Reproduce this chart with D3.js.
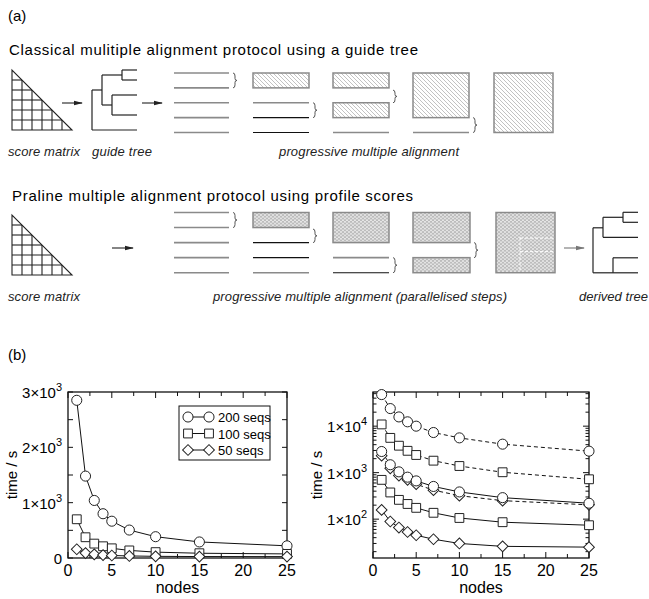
<!DOCTYPE html>
<html>
<head>
<meta charset="utf-8">
<script src="https://d3js.org/d3.v7.min.js"></script>
<style>
  body { margin: 0; background: #fff; }
  svg { display: block; font-family: "Liberation Sans", Arial, sans-serif; }
</style>
</head>
<body>
<script>
// ---- data ----
const nodes = [1, 2, 3, 4, 5, 7, 10, 15, 25];
const praline200 = [2850, 1480, 1040, 800, 665, 505, 385, 290, 220];
const praline100 = [700, 375, 260, 212, 175, 137, 106, 86, 74];
const praline50 = [158, 89, 66, 53, 45, 37, 30, 26, 25];
const dashed200 = [47800, 23900, 15800, 12400, 10000, 7300, 5600, 4100, 2900];
const dashed100 = [10900, 5600, 3800, 2950, 2400, 1810, 1390, 1020, 720];
const dashed50 = [2320, 1240, 865, 700, 565, 420, 320, 250, 203];
const legendLabels = ["200 seqs", "100 seqs", "50 seqs"];
const xTicks = [0, 5, 10, 15, 20, 25];
const linTicks = [0, 1000, 2000, 3000];
const logTicks = [100, 1000, 10000];

// schematic of the two protocols (rows 0..4, k = black line)
const classicStages = [
  [{t: "line", r: 0}, {t: "line", r: 1}, {t: "line", r: 2}, {t: "line", r: 3}, {t: "line", r: 4}, {t: "brace", a: 0, b: 1}],
  [{t: "rect", a: 0, b: 1}, {t: "line", r: 2}, {t: "line", r: 3, k: 1}, {t: "line", r: 4, k: 1}, {t: "brace", a: 2, b: 3}],
  [{t: "rect", a: 0, b: 1}, {t: "rect", a: 2, b: 3}, {t: "line", r: 4}, {t: "brace", a: 1.15, b: 2}],
  [{t: "rect", a: 0, b: 3}, {t: "line", r: 4}, {t: "brace", a: 3, b: 4}],
  [{t: "rect", a: 0, b: 4}]
];
const pralineStages = [
  [{t: "line", r: 0}, {t: "line", r: 1}, {t: "line", r: 2}, {t: "line", r: 3}, {t: "line", r: 4}, {t: "brace", a: 0, b: 1}],
  [{t: "rect", a: 0, b: 1}, {t: "line", r: 2, k: 1}, {t: "line", r: 3, k: 1}, {t: "line", r: 4}, {t: "brace", a: 1.1, b: 2}],
  [{t: "rect", a: 0, b: 2}, {t: "line", r: 3}, {t: "line", r: 4, k: 1}, {t: "brace", a: 3, b: 4}],
  [{t: "rect", a: 0, b: 2}, {t: "rect", a: 3, b: 4}, {t: "brace", a: 2, b: 3}],
  [{t: "rect", a: 0, b: 4}]
];
const guideTree = {d: 0, kids: [
  {d: 1, r: 4, kids: [
    {d: 3, r: 1, kids: [{d: 4.5, r: 0}, {d: 4.5, r: 2}]},
    {d: 2, r: 7, kids: [{d: 4.5, r: 5}, {d: 4.5, r: 9}]}
  ]},
  {d: 4.5, r: 12}
]};
const derivedTree = {d: 0, kids: [
  {d: 1, r: 3.1, kids: [
    {d: 3, r: 1, kids: [{d: 4.5, r: 0}, {d: 4.5, r: 2}]},
    {d: 4.5, r: 5}
  ]},
  {d: 2, r: 12.1, kids: [{d: 4.5, r: 9.1}, {d: 4.5, r: 12.1}]}
]};

const width = 649, height = 599;
const svg = d3.select("body").append("svg")
    .attr("width", width)
    .attr("height", height);

// ---- patterns ----
const defs = svg.append("defs");
const hatch = defs.append("pattern").attr("id", "hatch")
    .attr("patternUnits", "userSpaceOnUse").attr("width", 4).attr("height", 4);
hatch.append("rect").attr("width", 4).attr("height", 4).attr("fill", "#fff");
hatch.append("path").attr("d", "M0,0L4,4M-1,3L1,5M3,-1L5,1")
    .attr("stroke", "#a8a8a8").attr("stroke-width", 0.7);

const mesh = defs.append("pattern").attr("id", "mesh")
    .attr("patternUnits", "userSpaceOnUse").attr("width", 4).attr("height", 3.4);
mesh.append("rect").attr("width", 4).attr("height", 3.4).attr("fill", "#bcbcbc");
mesh.append("circle").attr("cx", 1).attr("cy", 0.85).attr("r", 0.95).attr("fill", "#eeeeee");
mesh.append("circle").attr("cx", 3).attr("cy", 2.55).attr("r", 0.95).attr("fill", "#eeeeee");

defs.append("marker").attr("id", "arrow")
    .attr("markerUnits", "userSpaceOnUse")
    .attr("markerWidth", 10).attr("markerHeight", 6)
    .attr("refX", 8).attr("refY", 3).attr("orient", "auto")
  .append("path").attr("d", "M0,0.8L9,3L0,5.2Z").attr("fill", "#222");
defs.append("marker").attr("id", "arrowGrey")
    .attr("markerUnits", "userSpaceOnUse")
    .attr("markerWidth", 10).attr("markerHeight", 6)
    .attr("refX", 8).attr("refY", 3).attr("orient", "auto")
  .append("path").attr("d", "M0,0.8L9,3L0,5.2Z").attr("fill", "#777");

// ---- panel (a) ----
svg.append("text").attr("x", 8).attr("y", 21).style("font-size", "15px").text("(a)");
svg.append("text").attr("x", 9).attr("y", 55).style("font-size", "15px")
    .attr("textLength", 409).attr("lengthAdjust", "spacing")
    .text("Classical mulitiple alignment protocol using a guide tree");
svg.append("text").attr("x", 12).attr("y", 201).style("font-size", "15px")
    .attr("textLength", 401).attr("lengthAdjust", "spacing")
    .text("Praline multiple alignment protocol using profile scores");

function italic(x, y, s, len) {
  svg.append("text").attr("x", x).attr("y", y)
      .style("font-size", "13px").style("font-style", "italic").attr("fill", "#222")
      .attr("textLength", len).attr("lengthAdjust", "spacing").text(s);
}
italic(8, 156, "score matrix", 72);
italic(92, 156, "guide tree", 60);
italic(279, 156, "progressive multiple alignment", 180);
italic(8, 301, "score matrix", 72);
italic(213, 301, "progressive multiple alignment (parallelised steps)", 294);
italic(579, 301, "derived tree", 69);

function drawMatrix(x0, y0) {
  const s = d3.scaleLinear().domain([0, 6]).range([0, 60]);
  const g = svg.append("g").attr("fill", "none").attr("stroke", "#222").attr("stroke-width", 1.1);
  g.append("path").attr("d", `M${x0},${y0}L${x0},${y0 + s(6)}L${x0 + s(6)},${y0 + s(6)}Z`);
  d3.range(1, 6).forEach(i => {
    g.append("line").attr("x1", x0).attr("x2", x0 + s(i)).attr("y1", y0 + s(i)).attr("y2", y0 + s(i));
    g.append("line").attr("x1", x0 + s(i)).attr("x2", x0 + s(i)).attr("y1", y0 + s(i)).attr("y2", y0 + s(6));
  });
}
drawMatrix(12, 70);
drawMatrix(12, 215);

function arrow(x1, x2, y, grey) {
  svg.append("line").attr("x1", x1).attr("x2", x2).attr("y1", y).attr("y2", y)
      .attr("stroke", grey ? "#777" : "#222").attr("stroke-width", 1.1)
      .attr("marker-end", grey ? "url(#arrowGrey)" : "url(#arrow)");
}
arrow(62, 82, 103);
arrow(142, 162, 103);
arrow(112, 133, 248);
arrow(564, 584, 248, true);

function brace(x, y0, y1) {
  const m = (y0 + y1) / 2, w = 4;
  return `M${x},${y0}Q${x + w / 2},${y0} ${x + w / 2},${y0 + 3}L${x + w / 2},${m - 2}` +
    `Q${x + w / 2},${m} ${x + w},${m}Q${x + w / 2},${m} ${x + w / 2},${m + 2}` +
    `L${x + w / 2},${y1 - 3}Q${x + w / 2},${y1} ${x},${y1}`;
}

function drawStages(stages, rowRange, colXs, colWs, fillId) {
  const y = d3.scaleLinear().domain([0, 4]).range(rowRange);
  const g = svg.append("g");
  stages.forEach((items, i) => {
    const x = colXs[i], w = colWs[i];
    items.forEach(it => {
      if (it.t === "line") {
        g.append("line").attr("x1", x).attr("x2", x + w).attr("y1", y(it.r)).attr("y2", y(it.r))
            .attr("stroke", it.k ? "#111" : "#8a8a8a").attr("stroke-width", it.k ? 1.1 : 1.6);
      } else if (it.t === "rect") {
        g.append("rect").attr("x", x).attr("y", y(it.a)).attr("width", w).attr("height", y(it.b) - y(it.a))
            .attr("fill", `url(#${fillId})`).attr("stroke", "#8a8a8a").attr("stroke-width", 1.5);
      } else {
        g.append("path").attr("d", brace(x + w + 4, y(it.a), y(it.b)))
            .attr("fill", "none").attr("stroke", "#555").attr("stroke-width", 1);
      }
    });
  });
  return y;
}
drawStages(classicStages, [73, 132.5], [174, 253, 333, 413, 494], [55, 56, 56, 56, 59], "hatch");
const py = drawStages(pralineStages, [212.5, 272.7], [174, 253, 333, 413, 496], [55, 56, 56, 57, 59], "mesh");

// white dashed lines marking the parallel steps in the final block
const pdash = svg.append("g").attr("stroke", "#fff").attr("stroke-width", 1).attr("stroke-dasharray", "3,2");
pdash.append("line").attr("x1", 520).attr("x2", 520).attr("y1", py(1.65)).attr("y2", py(4) - 1);
[1.7, 2.6].forEach(r => pdash.append("line").attr("x1", 520).attr("x2", 553)
    .attr("y1", py(r)).attr("y2", py(r)));

function drawTree(tree, x0, y0) {
  const dx = d3.scaleLinear().domain([0, 1]).range([x0, x0 + 10]);
  const dy = d3.scaleLinear().domain([0, 1]).range([y0, y0 + 5]);
  const g = svg.append("g").attr("fill", "none").attr("stroke", "#222").attr("stroke-width", 1.2);
  (function walk(n) {
    if (!n.kids) return;
    const rs = n.kids.map(k => k.r);
    g.append("line").attr("x1", dx(n.d)).attr("x2", dx(n.d))
        .attr("y1", dy(d3.min(rs))).attr("y2", dy(d3.max(rs)));
    n.kids.forEach(k => {
      g.append("line").attr("x1", dx(n.d)).attr("x2", dx(k.d)).attr("y1", dy(k.r)).attr("y2", dy(k.r));
      walk(k);
    });
  })(tree);
}
drawTree(guideTree, 92, 70);
drawTree(derivedTree, 593, 212.3);

// ---- panel (b) ----
svg.append("text").attr("x", 8).attr("y", 360).style("font-size", "15px").text("(b)");

const shapes = [
  d3.symbol(d3.symbolCircle, 80),
  d3.symbol(d3.symbolSquare, 78),
  d3.symbol(d3.symbolSquare, 58)
];
function marker(g, k, cx, cy) {
  g.append("path").attr("d", shapes[k]())
      .attr("transform", `translate(${cx},${cy})` + (k === 2 ? " rotate(45)" : ""))
      .attr("fill", "#fff").attr("stroke", "#222").attr("stroke-width", 1);
}

function supLabel(sel, mant, exp) {
  sel.append("tspan").text(mant + "\u00d710");
  sel.append("tspan").attr("dy", -7).style("font-size", "11px").text(exp);
}

function makePlot(cfg) {
  const {x, y, left, right, top, bottom} = cfg;
  const g = svg.append("g");
  g.append("rect").attr("x", left).attr("y", top).attr("width", right - left).attr("height", bottom - top)
      .attr("fill", "none").attr("stroke", "#111").attr("stroke-width", 1.3);

  // x ticks, inward top and bottom
  d3.range(0, 25.01, 2.5).forEach(v => {
    const len = v % 5 === 0 ? 6 : 4;
    g.append("line").attr("x1", x(v)).attr("x2", x(v)).attr("y1", bottom).attr("y2", bottom - len).attr("stroke", "#111");
    g.append("line").attr("x1", x(v)).attr("x2", x(v)).attr("y1", top).attr("y2", top + len).attr("stroke", "#111");
  });
  xTicks.forEach(v => g.append("text").attr("x", x(v)).attr("y", bottom + 18)
      .attr("text-anchor", "middle").style("font-size", "16px").text(v));

  // y ticks
  cfg.yTickVals.forEach(t => {
    g.append("line").attr("x1", left).attr("x2", left + t.len).attr("y1", y(t.v)).attr("y2", y(t.v)).attr("stroke", "#111");
    g.append("line").attr("x1", right).attr("x2", right - t.len).attr("y1", y(t.v)).attr("y2", y(t.v)).attr("stroke", "#111");
  });
  cfg.yLabels.forEach(v => {
    const t = g.append("text").attr("x", left - 6).attr("y", y(v) + 6)
        .attr("text-anchor", "end").style("font-size", "15px");
    if (v === 0) t.text("0");
    else {
      const e = Math.floor(Math.log10(v) + 1e-9);
      supLabel(t, Math.round(v / Math.pow(10, e)), e);
    }
  });

  g.append("text").attr("x", (left + right) / 2).attr("y", bottom + 35)
      .attr("text-anchor", "middle").style("font-size", "16px").text("nodes");
  g.append("text").attr("transform", `translate(${cfg.ylabX},${(top + bottom) / 2}) rotate(-90)`)
      .attr("text-anchor", "middle").style("font-size", "15px").text("time / s");

  const line = d3.line().x(d => x(d[0])).y(d => y(d[1]));
  cfg.series.forEach(s => {
    const pts = nodes.map((n, i) => [n, s.values[i]]);
    g.append("path").attr("d", line(pts)).attr("fill", "none").attr("stroke", "#111")
        .attr("stroke-width", 1).attr("stroke-dasharray", s.dashed ? "4,3" : null);
  });
  cfg.series.forEach(s => {
    nodes.forEach((n, i) => marker(g, s.shape, x(n), y(s.values[i])));
  });
  return g;
}

// left: linear
const xL = d3.scaleLinear().domain([0, 25]).range([68, 287]);
const yL = d3.scaleLinear().domain([0, 3000]).range([558, 392]);
const gL = makePlot({
  x: xL, y: yL, left: 68, right: 287, top: 392, bottom: 558, ylabX: 17,
  yTickVals: d3.range(0, 3001, 500).map(v => ({v, len: 5})),
  yLabels: linTicks,
  series: [
    {values: praline200, shape: 0},
    {values: praline100, shape: 1},
    {values: praline50, shape: 2}
  ]
});

// legend
const leg = gL.append("g");
leg.append("rect").attr("x", 179).attr("y", 406).attr("width", 91).attr("height", 54)
    .attr("fill", "#fff").attr("stroke", "#111").attr("stroke-width", 1);
legendLabels.forEach((lab, i) => {
  const ly = 417 + i * 16.5;
  leg.append("line").attr("x1", 188).attr("x2", 209).attr("y1", ly).attr("y2", ly).attr("stroke", "#111");
  marker(leg, i, 188, ly);
  marker(leg, i, 209, ly);
  leg.append("text").attr("x", 218).attr("y", ly + 5).style("font-size", "13px").text(lab);
});

// right: logarithmic
const xR = d3.scaleLinear().domain([0, 25]).range([373, 589]);
const yR = d3.scaleLog().domain([14.6, 54300]).range([558, 392]);
const logMinor = [];
[10, 100, 1000, 10000].forEach(dec => d3.range(1, 10).forEach(m => {
  const v = dec * m;
  if (v >= 14.6 && v <= 54300) logMinor.push({v, len: m === 1 ? 6 : 3.5});
}));
makePlot({
  x: xR, y: yR, left: 373, right: 589, top: 392, bottom: 558, ylabX: 322,
  yTickVals: logMinor,
  yLabels: logTicks,
  series: [
    {values: dashed200, shape: 0, dashed: true},
    {values: dashed100, shape: 1, dashed: true},
    {values: dashed50, shape: 2, dashed: true},
    {values: praline200, shape: 0},
    {values: praline100, shape: 1},
    {values: praline50, shape: 2}
  ]
});
</script>
</body>
</html>
